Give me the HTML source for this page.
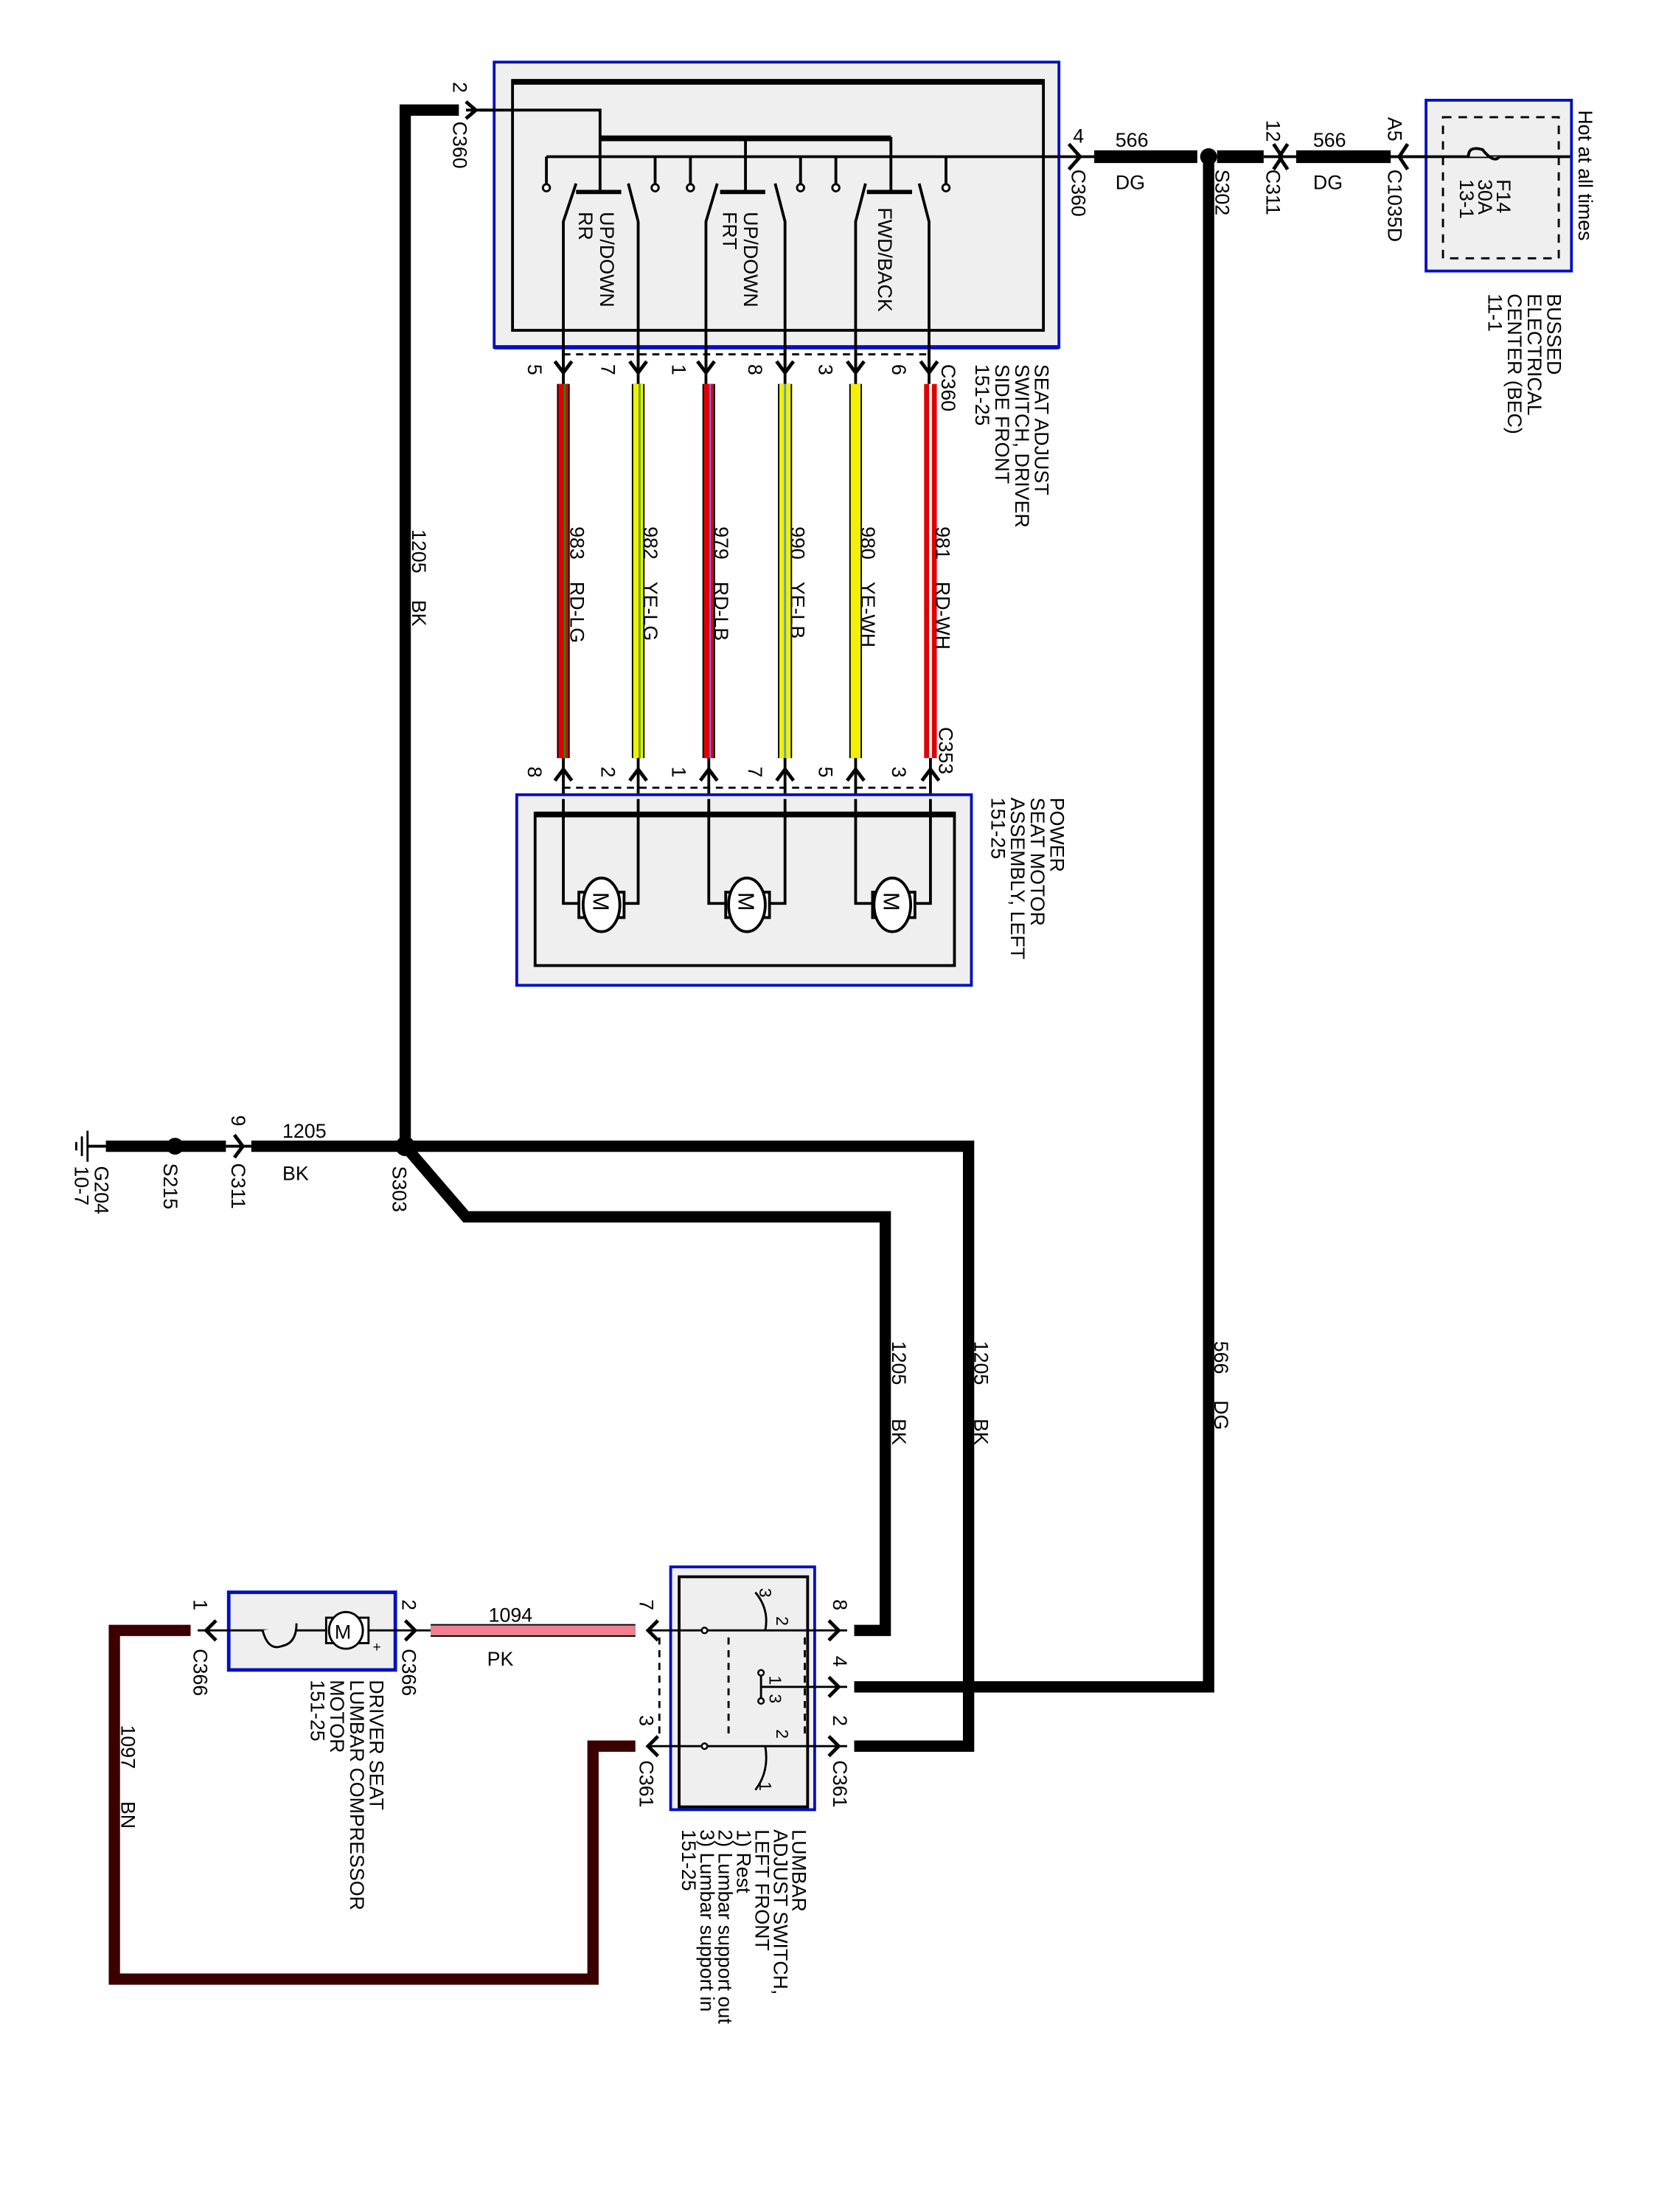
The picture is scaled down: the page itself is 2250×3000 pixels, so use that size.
<!DOCTYPE html>
<html><head><meta charset="utf-8"><style>
html,body{margin:0;padding:0;background:#fff;}
svg{display:block;}
text{font-family:"Liberation Sans",sans-serif;font-size:14px;fill:#000;}
</style></head><body>
<svg width="2250" height="3000" viewBox="0 0 1175 1567" preserveAspectRatio="none" xmlns="http://www.w3.org/2000/svg">
<rect width="1175" height="1567" fill="#fff"/>

<!-- ===== Top seat adjust switch ===== -->
<rect x="350" y="44" width="400" height="202" fill="#efefef" stroke="#0010c0" stroke-width="2"/>
<line x1="350" y1="246" x2="750" y2="246" stroke="#0010c0" stroke-width="3"/>
<rect x="363" y="57" width="376" height="177" fill="none" stroke="#000" stroke-width="2"/>
<line x1="363" y1="58" x2="739" y2="58" stroke="#000" stroke-width="4"/>

<!-- 1205 internal -->
<polyline points="340,78 425,78 425,136" fill="none" stroke="#000" stroke-width="2"/>
<line x1="425" y1="98" x2="631" y2="98" stroke="#000" stroke-width="4"/>
<line x1="528" y1="97" x2="528" y2="136" stroke="#000" stroke-width="2"/>
<line x1="631" y1="97" x2="631" y2="136" stroke="#000" stroke-width="2"/>
<!-- bus -->
<line x1="387" y1="111" x2="760" y2="111" stroke="#000" stroke-width="2"/>
<g stroke="#000" stroke-width="2">
<line x1="387" y1="111" x2="387" y2="130"/>
<line x1="464" y1="111" x2="464" y2="130"/>
<line x1="489" y1="111" x2="489" y2="130"/>
<line x1="567" y1="111" x2="567" y2="130"/>
<line x1="592" y1="111" x2="592" y2="130"/>
<line x1="670" y1="111" x2="670" y2="130"/>
</g>
<g fill="#fff" stroke="#000" stroke-width="1.5">
<circle cx="387" cy="133" r="2.5"/><circle cx="464" cy="133" r="2.5"/><circle cx="489" cy="133" r="2.5"/>
<circle cx="567" cy="133" r="2.5"/><circle cx="592" cy="133" r="2.5"/><circle cx="670" cy="133" r="2.5"/>
</g>
<!-- switches -->
<g stroke="#000" stroke-width="2" fill="none">
<line x1="408" y1="136" x2="440" y2="136" stroke-width="3"/>
<polyline points="399,260 399,157 408,130"/><polyline points="452,260 452,157 445,130"/>
<line x1="510" y1="136" x2="542" y2="136" stroke-width="3"/>
<polyline points="500,260 500,157 508,130"/><polyline points="556,260 556,157 549,130"/>
<line x1="614" y1="136" x2="646" y2="136" stroke-width="3"/>
<polyline points="606,260 606,157 613,130"/><polyline points="658,260 658,157 651,130"/>
</g>
<text transform="translate(425,150) rotate(90)">UP/DOWN</text>
<text transform="translate(410,150) rotate(90)">RR</text>
<text transform="translate(527,150) rotate(90)">UP/DOWN</text>
<text transform="translate(512,150) rotate(90)">FRT</text>
<text transform="translate(622,147) rotate(90)">FWD/BACK</text>

<!-- C360 lower connector -->
<line x1="399" y1="251" x2="658" y2="251" stroke="#000" stroke-width="1.5" stroke-dasharray="5,4"/>
<g stroke="#000" stroke-width="2.5" fill="none">
<path d="M393 256 L399 264 L405 256"/><path d="M446 256 L452 264 L458 256"/><path d="M494 256 L500 264 L506 256"/>
<path d="M550 256 L556 264 L562 256"/><path d="M600 256 L606 264 L612 256"/><path d="M652 256 L658 264 L664 256"/>
</g>
<g stroke="#000" stroke-width="2"><line x1="399" y1="246" x2="399" y2="272"/><line x1="452" y1="246" x2="452" y2="272"/><line x1="500" y1="246" x2="500" y2="272"/><line x1="556" y1="246" x2="556" y2="272"/><line x1="606" y1="246" x2="606" y2="272"/><line x1="658" y1="246" x2="658" y2="272"/></g>
<text transform="translate(374,258) rotate(90)">5</text>
<text transform="translate(426,258) rotate(90)">7</text>
<text transform="translate(476,258) rotate(90)">1</text>
<text transform="translate(530,258) rotate(90)">8</text>
<text transform="translate(580,258) rotate(90)">3</text>
<text transform="translate(632,258) rotate(90)">6</text>
<text transform="translate(667,258) rotate(90)">C360</text>
<text transform="translate(733,258) rotate(90)">SEAT ADJUST</text>
<text transform="translate(719,258) rotate(90)">SWITCH, DRIVER</text>
<text transform="translate(705,258) rotate(90)">SIDE FRONT</text>
<text transform="translate(691,258) rotate(90)">151-25</text>

<!-- colored wires -->
<g>
<line x1="399" y1="272" x2="399" y2="537" stroke="#000" stroke-width="9"/>
<line x1="399" y1="272" x2="399" y2="537" stroke="#e00000" stroke-width="7"/>
<line x1="400" y1="272" x2="400" y2="537" stroke="#1a8a1a" stroke-width="1.5"/>
<line x1="452" y1="272" x2="452" y2="537" stroke="#000" stroke-width="9"/>
<line x1="452" y1="272" x2="452" y2="537" stroke="#f0f000" stroke-width="7"/>
<line x1="453" y1="272" x2="453" y2="537" stroke="#5aaa20" stroke-width="1.5"/>
<line x1="502" y1="272" x2="502" y2="537" stroke="#000" stroke-width="9"/>
<line x1="502" y1="272" x2="502" y2="537" stroke="#e00000" stroke-width="7"/>
<line x1="503" y1="272" x2="503" y2="537" stroke="#6a6aff" stroke-width="1.2"/>
<line x1="556" y1="272" x2="556" y2="537" stroke="#000" stroke-width="10"/>
<line x1="556" y1="272" x2="556" y2="537" stroke="#f0f000" stroke-width="8"/>
<line x1="556" y1="272" x2="556" y2="537" stroke="#60a0c0" stroke-width="1.5"/>
<line x1="606" y1="272" x2="606" y2="537" stroke="#000" stroke-width="9"/>
<line x1="606" y1="272" x2="606" y2="537" stroke="#f4f000" stroke-width="7"/>
<line x1="659" y1="272" x2="659" y2="537" stroke="#e00000" stroke-width="9"/>
<line x1="659" y1="272" x2="659" y2="537" stroke="#ffffff" stroke-width="2"/>
</g>
<text transform="translate(404,373) rotate(90)">983</text><text transform="translate(404,412) rotate(90)">RD-LG</text>
<text transform="translate(456,373) rotate(90)">982</text><text transform="translate(456,412) rotate(90)">YE-LG</text>
<text transform="translate(506,373) rotate(90)">979</text><text transform="translate(506,412) rotate(90)">RD-LB</text>
<text transform="translate(560,373) rotate(90)">990</text><text transform="translate(560,412) rotate(90)">YE-LB</text>
<text transform="translate(610,373) rotate(90)">980</text><text transform="translate(610,412) rotate(90)">YE-WH</text>
<text transform="translate(663,373) rotate(90)">981</text><text transform="translate(663,412) rotate(90)">RD-WH</text>
<text transform="translate(665,515) rotate(90)">C353</text>

<!-- C353 connector -->
<g stroke="#000" stroke-width="2"><line x1="399" y1="537" x2="399" y2="566"/><line x1="452" y1="537" x2="452" y2="566"/><line x1="502" y1="537" x2="502" y2="566"/><line x1="556" y1="537" x2="556" y2="566"/><line x1="606" y1="537" x2="606" y2="566"/><line x1="659" y1="537" x2="659" y2="566"/></g>
<g stroke="#000" stroke-width="2.5" fill="none">
<path d="M393 553 L399 545 L405 553"/><path d="M446 553 L452 545 L458 553"/><path d="M496 553 L502 545 L508 553"/>
<path d="M550 553 L556 545 L562 553"/><path d="M600 553 L606 545 L612 553"/><path d="M653 553 L659 545 L665 553"/>
</g>
<line x1="399" y1="558" x2="659" y2="558" stroke="#000" stroke-width="1.5" stroke-dasharray="5,4"/>
<text transform="translate(374,543) rotate(90)">8</text>
<text transform="translate(426,543) rotate(90)">2</text>
<text transform="translate(476,543) rotate(90)">1</text>
<text transform="translate(530,543) rotate(90)">7</text>
<text transform="translate(580,543) rotate(90)">5</text>
<text transform="translate(632,543) rotate(90)">3</text>

<!-- Power seat motor -->
<rect x="366" y="563" width="322" height="135" fill="#efefef" stroke="#0010c0" stroke-width="2"/>
<rect x="379" y="576" width="297" height="108" fill="none" stroke="#000" stroke-width="2"/>
<line x1="379" y1="577" x2="676" y2="577" stroke="#000" stroke-width="4"/>
<g stroke="#000" stroke-width="2" fill="none">
<polyline points="399,566 399,640 410,640"/><polyline points="452,566 452,640 442,640"/>
<polyline points="502,566 502,640 514,640"/><polyline points="556,566 556,640 545,640"/>
<polyline points="606,566 606,640 618,640"/><polyline points="659,566 659,640 648,640"/>
</g>
<g stroke="#000" stroke-width="2" fill="#fff">
<rect x="410" y="632" width="8" height="18"/><rect x="434" y="632" width="8" height="18"/><ellipse cx="426" cy="641" rx="13" ry="19"/>
<rect x="514" y="632" width="8" height="18"/><rect x="537" y="632" width="8" height="18"/><ellipse cx="529" cy="641" rx="13" ry="19"/>
<rect x="618" y="632" width="8" height="18"/><rect x="640" y="632" width="8" height="18"/><ellipse cx="632" cy="641" rx="13" ry="19"/>
</g>
<text transform="translate(420,632) rotate(90)" style="font-size:16px">M</text>
<text transform="translate(523,632) rotate(90)" style="font-size:16px">M</text>
<text transform="translate(626,632) rotate(90)" style="font-size:16px">M</text>
<text transform="translate(744,565) rotate(90)">POWER</text>
<text transform="translate(730,565) rotate(90)">SEAT MOTOR</text>
<text transform="translate(716,565) rotate(90)">ASSEMBLY, LEFT</text>
<text transform="translate(702,565) rotate(90)">151-25</text>

<!-- ===== 566 DG ===== -->
<line x1="775" y1="111" x2="848" y2="111" stroke="#000" stroke-width="9"/>
<line x1="862" y1="111" x2="895" y2="111" stroke="#000" stroke-width="9"/>
<line x1="918" y1="111" x2="985" y2="111" stroke="#000" stroke-width="9"/>
<line x1="760" y1="111" x2="775" y2="111" stroke="#000" stroke-width="2"/>
<path d="M757 102 L765 111 L757 120" stroke="#000" stroke-width="2.5" fill="none"/>
<text x="760" y="101">4</text>
<text transform="translate(759,120) rotate(90)">C360</text>
<text x="790" y="104">566</text><text x="790" y="134">DG</text>
<circle cx="856" cy="111" r="6" fill="#000"/>
<text transform="translate(861,120) rotate(90)">S302</text>
<line x1="895" y1="111" x2="918" y2="111" stroke="#000" stroke-width="2"/>
<path d="M902 102 L908 111 L902 120 M912 102 L906 111 L912 120" stroke="#000" stroke-width="2.5" fill="none"/>
<text transform="translate(897,85) rotate(90)">12</text>
<text transform="translate(897,120) rotate(90)">C311</text>
<text x="930" y="104">566</text><text x="930" y="134">DG</text>
<line x1="985" y1="111" x2="1113" y2="111" stroke="#000" stroke-width="2"/>
<path d="M997 102 L991 111 L997 120" stroke="#000" stroke-width="2.5" fill="none"/>
<text transform="translate(983,83) rotate(90)">A5</text>
<text transform="translate(983,120) rotate(90)">C1035D</text>

<!-- BEC -->
<rect x="1010" y="71" width="103" height="121" fill="#efefef" stroke="#0010c0" stroke-width="2"/>
<rect x="1022" y="83" width="82" height="100" fill="none" stroke="#000" stroke-width="1.5" stroke-dasharray="6,5"/>
<line x1="985" y1="111" x2="1112" y2="111" stroke="#000" stroke-width="2"/>
<path d="M1040 111 Q1040 103 1050 106 Q1058 116 1062 111" stroke="#000" stroke-width="2" fill="#efefef"/>
<text transform="translate(1060,127) rotate(90)">F14</text>
<text transform="translate(1047,127) rotate(90)">30A</text>
<text transform="translate(1034,127) rotate(90)">13-1</text>
<text transform="translate(1118,78) rotate(90)">Hot at all times</text>
<text transform="translate(1096,208) rotate(90)">BUSSED</text>
<text transform="translate(1082,208) rotate(90)">ELECTRICAL</text>
<text transform="translate(1068,208) rotate(90)">CENTER (BEC)</text>
<text transform="translate(1054,208) rotate(90)">11-1</text>

<!-- 566 DG down -->
<polyline points="856,111 856,1195 605,1195" fill="none" stroke="#000" stroke-width="8"/>
<text transform="translate(860,950) rotate(90)">566</text>
<text transform="translate(860,992) rotate(90)">DG</text>

<!-- ===== 1205 BK ===== -->
<polyline points="325,78 287,78 287,812" fill="none" stroke="#000" stroke-width="8"/>
<path d="M330 72 L337 78 L330 84" stroke="#000" stroke-width="2.5" fill="none"/>
<line x1="330" y1="78" x2="350" y2="78" stroke="#000" stroke-width="2"/>
<text transform="translate(321,58) rotate(90)">2</text>
<text transform="translate(321,86) rotate(90)">C360</text>
<text transform="translate(292,375) rotate(90)">1205</text>
<text transform="translate(292,425) rotate(90)">BK</text>

<polyline points="287,812 686,812 686,1237 605,1237" fill="none" stroke="#000" stroke-width="8"/>
<polyline points="287,812 330,862 627,862 627,1155 605,1155" fill="none" stroke="#000" stroke-width="8"/>
<circle cx="287" cy="812" r="7" fill="#000"/>
<text transform="translate(278,826) rotate(90)">S303</text>
<text transform="translate(632,950) rotate(90)">1205</text><text transform="translate(632,1005) rotate(90)">BK</text>
<text transform="translate(690,950) rotate(90)">1205</text><text transform="translate(690,1005) rotate(90)">BK</text>

<!-- to ground -->
<line x1="75" y1="812" x2="160" y2="812" stroke="#000" stroke-width="8"/>
<line x1="178" y1="812" x2="287" y2="812" stroke="#000" stroke-width="8"/>
<line x1="160" y1="812" x2="178" y2="812" stroke="#000" stroke-width="2"/>
<path d="M166 804 L172 812 L166 820" stroke="#000" stroke-width="2.5" fill="none"/>
<text transform="translate(164,790) rotate(90)">9</text>
<text transform="translate(164,824) rotate(90)">C311</text>
<text x="200" y="806">1205</text><text x="200" y="836">BK</text>
<circle cx="124" cy="812" r="6" fill="#000"/>
<text transform="translate(116,824) rotate(90)">S215</text>
<line x1="62" y1="812" x2="75" y2="812" stroke="#000" stroke-width="2"/>
<g stroke="#000" stroke-width="1.5"><line x1="62" y1="801" x2="62" y2="823"/><line x1="58" y1="805" x2="58" y2="819"/><line x1="54" y1="809" x2="54" y2="815"/></g>
<text transform="translate(67,826) rotate(90)">G204</text>
<text transform="translate(53,826) rotate(90)">10-7</text>

<!-- ===== Lumbar switch ===== -->
<rect x="475" y="1110" width="102" height="172" fill="#efefef" stroke="#0010c0" stroke-width="2"/>
<rect x="481" y="1117" width="91" height="163" fill="none" stroke="#000" stroke-width="2"/>
<g stroke="#000" stroke-width="1.5" fill="none">
<line x1="460" y1="1155" x2="600" y2="1155"/><line x1="460" y1="1237" x2="600" y2="1237"/>
<line x1="539" y1="1195" x2="600" y2="1195"/><line x1="539" y1="1185" x2="539" y2="1205"/>
<line x1="570" y1="1160" x2="570" y2="1232" stroke-dasharray="5,4"/>
<line x1="467" y1="1160" x2="467" y2="1232" stroke-dasharray="5,4"/>
<line x1="516" y1="1160" x2="516" y2="1232" stroke-dasharray="5,4"/>
<path d="M535 1128 Q545 1140 542 1155"/><path d="M542 1237 Q545 1255 535 1268"/>
</g>
<g fill="#fff" stroke="#000" stroke-width="1.3"><circle cx="499" cy="1155" r="2"/><circle cx="499" cy="1237" r="2"/><circle cx="539" cy="1185" r="2"/><circle cx="539" cy="1205" r="2"/></g>
<text transform="translate(538,1125) rotate(90)" style="font-size:12px">3</text>
<text transform="translate(550,1145) rotate(90)" style="font-size:12px">2</text>
<text transform="translate(545,1187) rotate(90)" style="font-size:12px">1</text>
<text transform="translate(545,1200) rotate(90)" style="font-size:12px">3</text>
<text transform="translate(550,1225) rotate(90)" style="font-size:12px">2</text>
<text transform="translate(538,1262) rotate(90)" style="font-size:12px">1</text>
<g stroke="#000" stroke-width="2.5" fill="none">
<path d="M587 1148 L594 1155 L587 1162"/><path d="M587 1188 L594 1195 L587 1202"/><path d="M587 1230 L594 1237 L587 1244"/>
<path d="M466 1148 L459 1155 L466 1162"/><path d="M466 1230 L459 1237 L466 1244"/>
</g>
<text transform="translate(590,1133) rotate(90)">8</text>
<text transform="translate(590,1173) rotate(90)">4</text>
<text transform="translate(590,1215) rotate(90)">2</text>
<text transform="translate(590,1247) rotate(90)">C361</text>
<text transform="translate(453,1133) rotate(90)">7</text>
<text transform="translate(453,1215) rotate(90)">3</text>
<text transform="translate(453,1247) rotate(90)">C361</text>
<text transform="translate(561,1296) rotate(90)">LUMBAR</text>
<text transform="translate(548,1296) rotate(90)">ADJUST SWITCH,</text>
<text transform="translate(535,1296) rotate(90)">LEFT FRONT</text>
<text transform="translate(522,1296) rotate(90)">1) Rest</text>
<text transform="translate(509,1296) rotate(90)">2) Lumbar support out</text>
<text transform="translate(496,1296) rotate(90)">3) Lumbar support in</text>
<text transform="translate(483,1296) rotate(90)">151-25</text>

<!-- 1094 PK -->
<line x1="305" y1="1155" x2="450" y2="1155" stroke="#000" stroke-width="9"/>
<line x1="305" y1="1155" x2="450" y2="1155" stroke="#f08090" stroke-width="7"/>
<text x="346" y="1149">1094</text><text x="345" y="1180">PK</text>

<!-- compressor -->
<rect x="162" y="1128" width="118" height="55" fill="#efefef" stroke="#0010c0" stroke-width="2.5"/>
<line x1="140" y1="1155" x2="305" y2="1155" stroke="#000" stroke-width="1.5"/>
<path d="M186 1155 Q190 1170 200 1166 Q210 1164 210 1150" stroke="#000" stroke-width="1.5" fill="#efefef"/>
<rect x="231" y="1146" width="30" height="18" fill="#fff" stroke="#000" stroke-width="1.5"/>
<ellipse cx="245" cy="1155" rx="12" ry="13" fill="#fff" stroke="#000" stroke-width="1.5"/>
<text x="237" y="1161" style="font-size:14px">M</text>
<text x="264" y="1170" style="font-size:10px">+</text>
<g stroke="#000" stroke-width="2.5" fill="none"><path d="M287 1148 L294 1155 L287 1162"/><path d="M153 1148 L146 1155 L153 1162"/></g>
<text transform="translate(285,1133) rotate(90)">2</text>
<text transform="translate(285,1168) rotate(90)">C366</text>
<text transform="translate(137,1133) rotate(90)">1</text>
<text transform="translate(137,1168) rotate(90)">C366</text>
<text transform="translate(262,1190) rotate(90)">DRIVER SEAT</text>
<text transform="translate(248,1190) rotate(90)">LUMBAR COMPRESSOR</text>
<text transform="translate(234,1190) rotate(90)">MOTOR</text>
<text transform="translate(220,1190) rotate(90)">151-25</text>

<!-- 1097 BN -->
<polyline points="135,1155 81,1155 81,1402 420,1402 420,1237 450,1237" fill="none" stroke="#3a0000" stroke-width="8"/>
<text transform="translate(86,1222) rotate(90)">1097</text>
<text transform="translate(86,1276) rotate(90)">BN</text>
</svg>
</body></html>
